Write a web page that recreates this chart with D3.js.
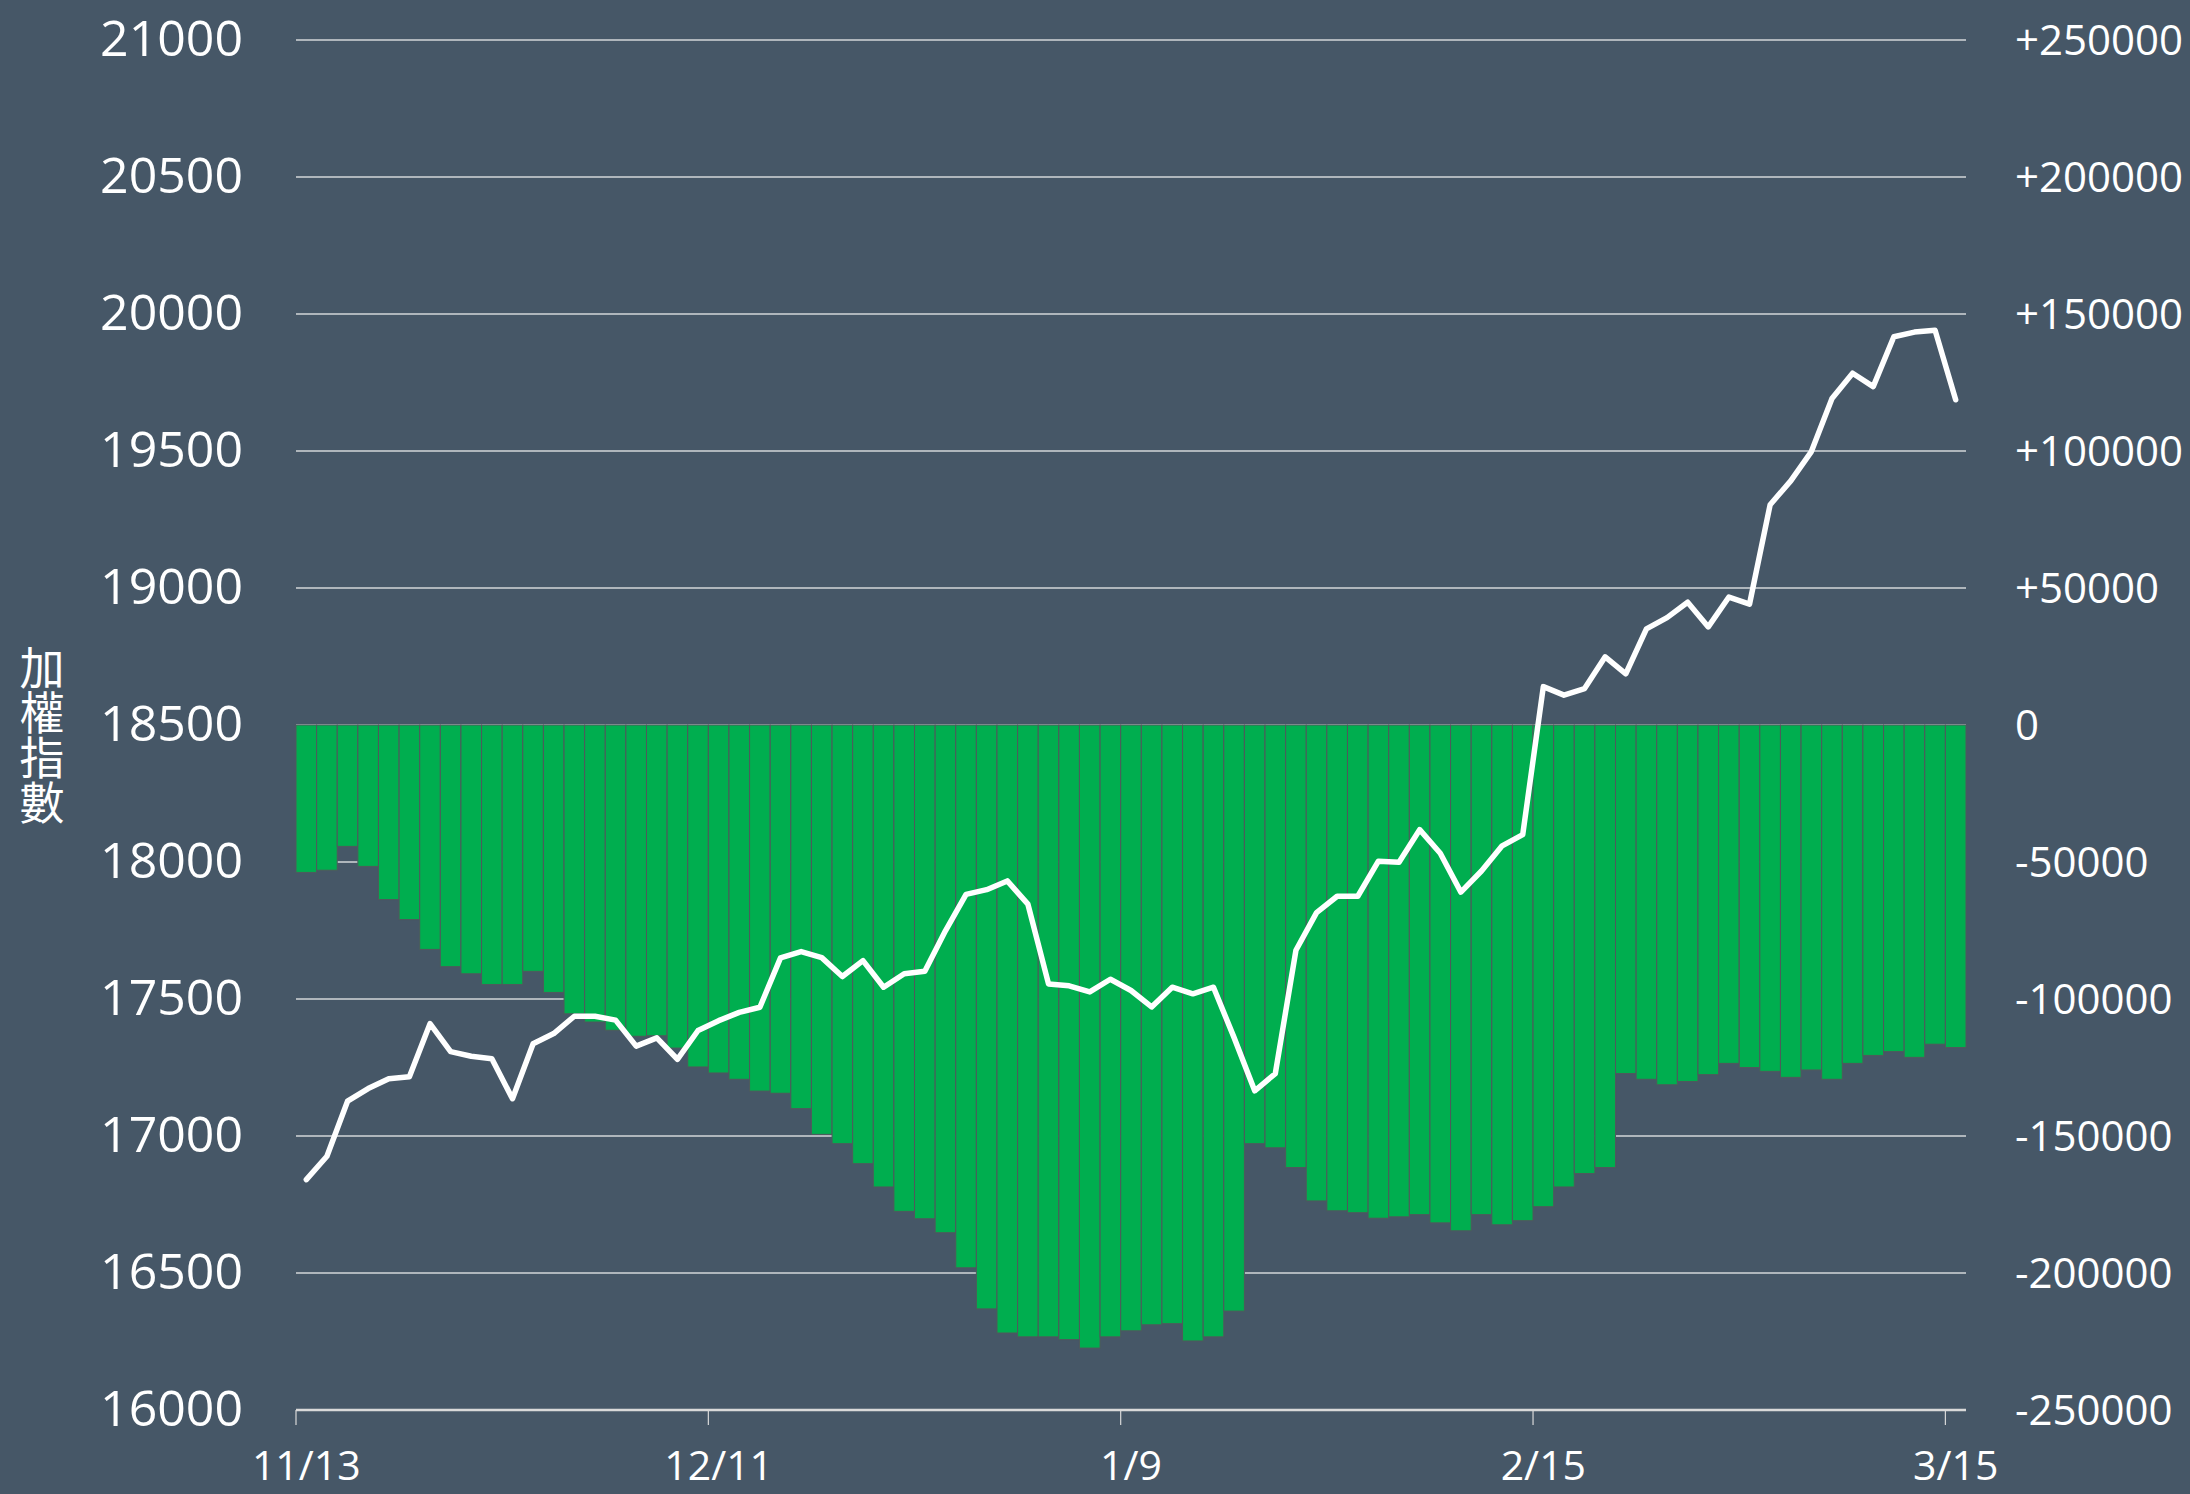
<!DOCTYPE html>
<html>
<head>
<meta charset="utf-8">
<script src="https://cdn.jsdelivr.net/npm/d3@7/dist/d3.min.js"></script>
<style>
  html, body { margin: 0; padding: 0; background: #465767; }
  svg { display: block; }
</style>
</head>
<body>
<div class="chart"></div>
<script>
var dates = [
  '11/13', '11/14', '11/15', '11/16', '11/17', '11/20', '11/21', '11/22', '11/23', '11/24',
  '11/27', '11/28', '11/29', '11/30', '12/1', '12/4', '12/5', '12/6', '12/7', '12/8',
  '12/11', '12/12', '12/13', '12/14', '12/15', '12/18', '12/19', '12/20', '12/21', '12/22',
  '12/25', '12/26', '12/27', '12/28', '12/29', '1/2', '1/3', '1/4', '1/5', '1/8',
  '1/9', '1/10', '1/11', '1/12', '1/15', '1/16', '1/17', '1/18', '1/19', '1/22',
  '1/23', '1/24', '1/25', '1/26', '1/29', '1/30', '1/31', '2/1', '2/2', '2/5',
  '2/15', '2/16', '2/19', '2/20', '2/21', '2/22', '2/23', '2/26', '2/27', '2/29',
  '3/1', '3/4', '3/5', '3/6', '3/7', '3/8', '3/11', '3/12', '3/13', '3/14', '3/15'
]

// net position (right axis), green bars
var netPosition = [
  -53800, -53000, -44300, -51600, -63700, -71000, -81900, -88200, -90800, -94700,
  -94700, -89900, -97600, -105400, -108400, -111400, -113600, -113400, -117900, -124800,
  -127000, -129300, -133600, -134400, -140000, -149400, -152800, -160100, -168600, -177500,
  -180200, -185300, -198100, -213100, -221900, -223300, -223300, -224300, -227400, -223300,
  -221100, -218900, -218500, -224800, -223300, -213900, -152800, -154300, -161500, -173700,
  -177300, -178000, -180000, -179500, -178700, -181700, -184600, -178700, -182400, -180900,
  -175800, -168600, -163700, -161500, -127200, -129300, -131300, -130100, -127600, -123500,
  -125000, -126400, -128600, -125900, -129300, -123500, -120600, -119200, -121300, -116500,
  -117700
]

// weighted index (left axis), white line
var taiex = [
  16841, 16926, 17127, 17173, 17209, 17216, 17410, 17308, 17291, 17282,
  17136, 17337, 17374, 17437, 17437, 17423, 17328, 17358, 17280, 17385,
  17421, 17451, 17470, 17650, 17673, 17651, 17582, 17640, 17543, 17592,
  17601, 17749, 17882, 17899, 17931, 17846, 17555, 17548, 17526, 17572,
  17531, 17471, 17543, 17519, 17543, 17359, 17165, 17228, 17678, 17815,
  17875, 17875, 18003, 17999, 18118, 18032, 17890, 17967, 18059, 18100,
  18640, 18609, 18633, 18749, 18687, 18851, 18892, 18948, 18858, 18967,
  18941, 19304, 19391, 19498, 19692, 19784, 19735, 19917, 19934, 19941,
  19687
]

var tickDates = ['11/13', '12/11', '1/9', '2/15', '3/15']
var leftTicks = [16000, 16500, 17000, 17500, 18000, 18500, 19000, 19500, 20000, 20500, 21000]
var rightTicks = [-250000, -200000, -150000, -100000, -50000, 0, 50000, 100000, 150000, 200000, 250000]
var yTitle = '加權指數'

;(function () {
  var width = 2190
  var height = 1494
  var left = 296
  var right = 1966
  var top = 40
  var bottom = 1410
  var numFont = '"Open Sans", "Noto Sans", sans-serif'

  var svg = d3.select('.chart')
    .append('svg')
    .attr('width', width)
    .attr('height', height)

  svg.append('rect')
    .attr('width', width)
    .attr('height', height)
    .attr('fill', '#465767')

  var x = d3.scaleBand()
    .domain(dates)
    .range([left, right])
    .padding(0)

  var yLeft = d3.scaleLinear()
    .domain([16000, 21000])
    .range([bottom, top])

  var yRight = d3.scaleLinear()
    .domain([-250000, 250000])
    .range([bottom, top])

  // gridlines behind the bars
  svg.append('g')
    .selectAll('line')
    .data(leftTicks.slice(1))
    .enter()
    .append('line')
    .attr('x1', left)
    .attr('x2', right)
    .attr('y1', function (d) { return yLeft(d) })
    .attr('y2', function (d) { return yLeft(d) })
    .attr('stroke', '#d3d6d9')
    .attr('stroke-width', 1.6)

  svg.append('g')
    .selectAll('rect')
    .data(netPosition)
    .enter()
    .append('rect')
    .attr('x', function (d, i) { return x(dates[i]) })
    .attr('width', x.bandwidth())
    .attr('y', function (d) { return yRight(Math.max(0, d)) })
    .attr('height', function (d) { return Math.abs(yRight(d) - yRight(0)) })
    .attr('fill', '#00ae4f')
    .attr('stroke', '#4f5a5c')
    .attr('stroke-width', 1)

  var line = d3.line()
    .x(function (d, i) { return x(dates[i]) + x.bandwidth() / 2 })
    .y(function (d) { return yLeft(d) })

  svg.append('path')
    .datum(taiex)
    .attr('d', line)
    .attr('fill', 'none')
    .attr('stroke', '#ffffff')
    .attr('stroke-width', 5.5)
    .attr('stroke-linejoin', 'round')
    .attr('stroke-linecap', 'round')

  // bottom axis
  var xAxis = svg.append('g')
    .attr('transform', 'translate(0,' + bottom + ')')
    .call(d3.axisBottom(x).tickValues(tickDates).tickSize(15).tickPadding(26))

  xAxis.select('.domain')
    .attr('d', 'M' + left + ',0H' + right)
    .attr('stroke', '#d9d9d9')
    .attr('stroke-width', 2.5)
  xAxis.selectAll('.tick line')
    .attr('x1', -x.bandwidth() / 2)
    .attr('x2', -x.bandwidth() / 2)
    .attr('stroke', '#d9d9d9')
    .attr('stroke-width', 1.2)
  xAxis.selectAll('.tick text')
    .attr('fill', '#ffffff')
    .style('font-family', numFont)
    .style('font-size', '41px')

  // left axis
  var leftAxis = svg.append('g')
    .attr('transform', 'translate(' + (left - 53) + ',0)')
    .call(d3.axisLeft(yLeft).tickValues(leftTicks).tickSize(0).tickPadding(0).tickFormat(d3.format('d')))
  leftAxis.select('.domain').remove()
  leftAxis.selectAll('.tick text')
    .attr('fill', '#ffffff')
    .attr('dy', '0.3em')
    .style('font-family', numFont)
    .style('font-size', '50px')

  // right axis
  var rightAxis = svg.append('g')
    .attr('transform', 'translate(' + (right + 49) + ',0)')
    .call(d3.axisRight(yRight).tickValues(rightTicks).tickSize(0).tickPadding(0)
      .tickFormat(function (d) { return d > 0 ? '+' + d : String(d) }))
  rightAxis.select('.domain').remove()
  rightAxis.selectAll('.tick text')
    .attr('fill', '#ffffff')
    .attr('dy', '0.35em')
    .style('font-family', numFont)
    .style('font-size', '42px')

  // vertical axis title, stacked top to bottom
  svg.append('text')
    .attr('x', 42)
    .attr('y', 645)
    .style('writing-mode', 'vertical-rl')
    .style('text-orientation', 'upright')
    .attr('fill', '#ffffff')
    .style('font-family', '"Noto Sans CJK TC", "Noto Sans CJK SC", sans-serif')
    .style('font-size', '45px')
    .text(yTitle)
})()
</script>
</body>
</html>
